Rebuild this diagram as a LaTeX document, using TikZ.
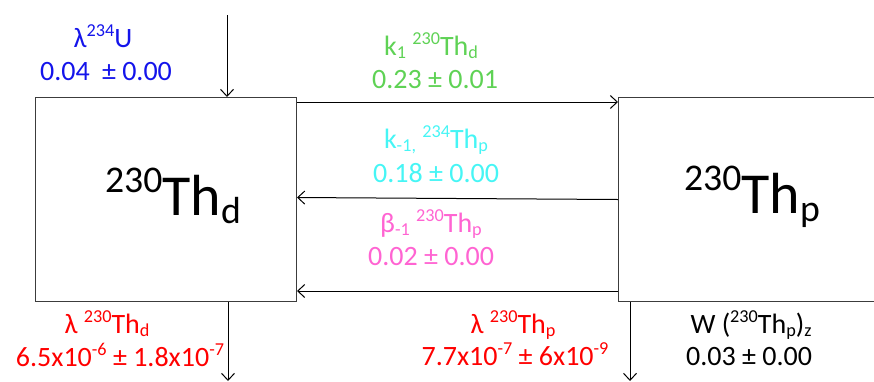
\documentclass[tikz,border=0pt]{standalone}
\usepackage{fontspec}
\setmainfont{Carlito}
\usetikzlibrary{arrows.meta}
\definecolor{cblue}{RGB}{20,20,235}
\definecolor{cgreen}{RGB}{95,210,85}
\definecolor{ccyan}{RGB}{70,245,245}
\definecolor{cpink}{RGB}{255,100,210}
\definecolor{cred}{RGB}{255,0,0}
\definecolor{cbox}{RGB}{60,60,60}
\newcommand\sps[1]{\raisebox{0.38em}{\scalebox{0.65}{#1}}}
\newcommand\sbs[1]{\raisebox{-0.14em}{\scalebox{0.65}{#1}}}
\tikzset{
  box/.style={draw=cbox,line width=1pt,rectangle,inner sep=0pt,anchor=north west},
  lbl/.style={inner sep=0pt,anchor=base,font=\fontsize{28}{34}\selectfont},
  big/.style={inner sep=0pt,anchor=base,font=\fontsize{58}{70}\selectfont},
  conn/.style={line width=1pt,-{Straight Barb[length=7pt,width=13pt,line width=1pt]}},
}
\begin{document}
\begin{tikzpicture}[x=1pt,y=-1pt]
\useasboundingbox (0,0) rectangle (874,381);
\clip (0,0) rectangle (874,381);
% boxes
\node[box,minimum width=261pt,minimum height=204pt] (dbox) at (35,97) {};
\node[box,minimum width=270pt,minimum height=204pt] (pbox) at (618,97) {};
% big labels
\node[big] (dlab) at (173,215) {\sps{230}Th\sbs{d}};
\node[big] (plab) at (752,213) {\sps{230}Th\sbs{p}};
% coordinates for free ends
\coordinate (uin) at (227,15);
\coordinate (dout) at (228,381);
\coordinate (pout) at (630,381);
% connectors
\draw[conn] (uin) -- (uin |- dbox.north);
\draw[conn] ([yshift=-5pt]dbox.north east) -- ([yshift=-5pt]pbox.north west);
\draw[conn] (pbox.west) -- ([yshift=2pt]dbox.east);
\draw[conn] ([yshift=11pt]pbox.south west) -- ([yshift=11pt]dbox.south east);
\draw[conn] (dout |- dbox.south) -- (dout);
\draw[conn] (pout |- pbox.south) -- (pout);
% labels
\node[lbl,text=cblue] (u1) at (103,47) {λ\sps{234}U};
\node[lbl,text=cblue] (u2) at (106,80) {0.04\hspace{6pt} ± 0.00};
\node[lbl,text=cgreen] (k1a) at (431,55) {k\sbs{1} \sps{230}Th\sbs{d}};
\node[lbl,text=cgreen] (k1b) at (435,88) {0.23 ± 0.01};
\node[lbl,text=ccyan] (k2a) at (436,148) {k\sbs{-1,} \sps{234}Th\sbs{p}};
\node[lbl,text=ccyan] (k2b) at (436,182) {0.18 ± 0.00};
\node[lbl,text=cpink] (b1a) at (431,232) {β\sbs{-1} \sps{230}Th\sbs{p}};
\node[lbl,text=cpink] (b1b) at (431,265) {0.02 ± 0.00};
\node[lbl,text=cred] (ld1) at (107,333) {λ \sps{230}Th\sbs{d}};
\node[lbl,text=cred] (ld2) at (120,366) {6.5x10\sps{-6} ± 1.8x10\sps{-7}};
\node[lbl,text=cred] (lp1) at (513,333) {λ \sps{230}Th\sbs{p}};
\node[lbl,text=cred] (lp2) at (515,365) {7.7x10\sps{-7} ± 6x10\sps{-9}};
\node[lbl,text=black] (w1) at (751,333) {W (\sps{230}Th\sbs{p})\sbs{z}};
\node[lbl,text=black] (w2) at (749,365) {0.03 ± 0.00};
\end{tikzpicture}
\end{document}
